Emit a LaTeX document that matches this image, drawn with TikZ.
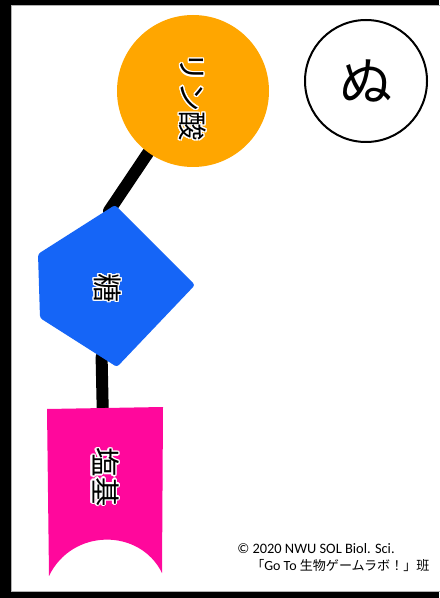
\documentclass[tikz,border=0pt]{standalone}
\usepackage{fontspec}
\usepackage{contour}
\usetikzlibrary{calc}
\setmainfont{Carlito}
\newfontfamily\jpfont{Noto Sans CJK JP}
\contourlength{1pt}
\definecolor{phosorange}{HTML}{FFA600}
\definecolor{sugarblue}{HTML}{1565F7}
\definecolor{basepink}{HTML}{FF089C}
\pgfdeclarelayer{frame}
\pgfdeclarelayer{wires}
\pgfsetlayers{frame,wires,main}

\begin{document}
\begin{tikzpicture}[x=0.75pt, y=-0.75pt,
	stem/.style={line width=9pt, line cap=round},
	tag/.style={font=\jpfont\fontsize{22}{22}\selectfont, rotate=-90, inner sep=0pt},
	credit/.style={font=\fontsize{10.5}{11}\selectfont, anchor=base west, inner sep=0pt}]
	\useasboundingbox (0,0) rectangle (439,598);
	\begin{pgfonlayer}{frame}
		\fill[black] (0,0) rectangle (439,598);
		\fill[white, draw=gray!60, line width=0.75pt] (11.5,5.5) rectangle (450,591.5);
	\end{pgfonlayer}
	\node[circle, fill=phosorange, minimum size=114pt, inner sep=0pt] (phos) at (193,91) {};
	\node[circle, draw, line width=1.5pt, minimum size=91.5pt, inner sep=0pt,
		font=\jpfont\fontsize{40}{40}\selectfont] (nu) at (366,81) {ぬ};
	\coordinate (s1) at (195,285);
	\coordinate (s2) at (115,205);
	\coordinate (s3) at (38,254);
	\coordinate (s4) at (40,318);
	\coordinate (s5) at (117,367);
	\fill[sugarblue, rounded corners=2pt] (s1) -- (s2) -- (s3) -- (s4) -- (s5) -- cycle;
	\coordinate (b1) at (47,409);
	\coordinate (b2) at (163,407);
	\coordinate (b3) at (162,573);
	\coordinate (b4) at (49,576);
	\fill[basepink] (b1) -- (b2) -- (b3) .. controls (140,528) and (72,528) .. (b4) -- cycle;
	\begin{pgfonlayer}{wires}
		\draw[stem] (phos.234) -- ($(s2)+(-6,6)$);
		\draw[stem] ($(s4)!0.8!(s5)$) -- ($(b1)!0.48!(b2)$);
	\end{pgfonlayer}
	\node[tag] (phoslabel) at (192,97) {\contour{white}{リン酸}};
	\node[tag] (sugar) at (107,288) {\contour{white}{糖}};
	\node[tag] (base) at (105,477) {\contour{white}{塩基}};
	\node[credit, font=\fontsize{10.8}{12}\selectfont] (credit1) at (237,553) {© 2020 NWU SOL Biol. Sci.};
	\node[credit] (credit2) at (251,570) {{\jpfont\fontsize{9.8}{11}\selectfont 「}Go To {\jpfont\fontsize{9.8}{11}\selectfont 生物ゲームラボ！」班}};
\end{tikzpicture}
\end{document}
